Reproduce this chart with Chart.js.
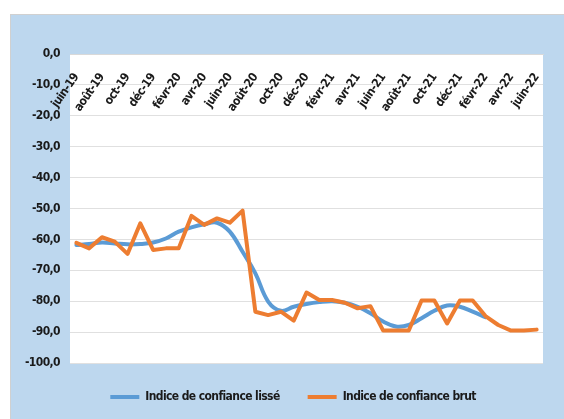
<!DOCTYPE html>
<html>
<head>
<meta charset="utf-8">
<script src="https://cdn.jsdelivr.net/npm/chart.js@4.4.0/dist/chart.umd.min.js"></script>
<style>
    html, body { margin: 0; padding: 0; background: #ffffff; width: 564px; height: 419px; overflow: hidden; }
    #box {
        position: absolute; left: 10px; top: 14px; width: 600px; height: 405px;
        background: #bdd7ee; box-shadow: inset 1px 1px 0 #d0d0d0;
    }
</style>
</head>
<body>
<div id="box"><canvas id="chart"></canvas></div>
<script>
// Monthly labels, juin-19 to juin-22
const months = [
    'juin-19', 'juil-19', 'août-19', 'sept-19', 'oct-19', 'nov-19', 'déc-19',
    'janv-20', 'févr-20', 'mars-20', 'avr-20', 'mai-20', 'juin-20', 'juil-20',
    'août-20', 'sept-20', 'oct-20', 'nov-20', 'déc-20', 'janv-21', 'févr-21',
    'mars-21', 'avr-21', 'mai-21', 'juin-21', 'juil-21', 'août-21', 'sept-21',
    'oct-21', 'nov-21', 'déc-21', 'janv-22', 'févr-22', 'mars-22', 'avr-22',
    'mai-22', 'juin-22'
];

const smoothed = [
    -61.8, -61.5, -61.0, -61.3, -61.6, -61.5, -61.0, -59.7, -57.5, -56.1,
    -55.1, -54.6, -57.5, -64.0, -71.0, -80.1, -83.1, -81.8, -80.9, -80.3,
    -80.0, -80.5, -81.8, -83.9, -86.6, -88.2, -87.7, -85.5, -83.1, -81.4,
    -81.8, -83.4, -85.2, null, null, null, null
];

const raw = [
    -61.1, -62.9, -59.3, -60.7, -64.7, -54.8, -63.4, -62.9, -62.9, -52.4,
    -55.3, -53.2, -54.6, -50.7, -83.4, -84.5, -83.4, -86.3, -77.2, -79.6,
    -79.6, -80.5, -82.3, -81.6, -89.5, -89.5, -89.5, -79.8, -79.8, -87.2,
    -79.8, -79.8, -84.8, -87.7, -89.5, -89.5, -89.2
];

const yMin = -100;
const yMax = 0;
const yStep = 10;

const axisFont = { family: "'DejaVu Sans Condensed', 'DejaVu Sans', sans-serif", size: 12, weight: 'bold' };
const tightText = '-0.6px';

// white plot area + slightly tighter text (Calibri-like width)
const plotBg = {
    id: 'plotBg',
    beforeUpdate(chart) {
        chart.ctx.letterSpacing = tightText;
    },
    beforeDraw(chart) {
        const a = chart.chartArea;
        const ctx = chart.ctx;
        ctx.letterSpacing = tightText;
        ctx.save();
        ctx.fillStyle = '#ffffff';
        ctx.fillRect(a.left, a.top, a.right - a.left, a.bottom - a.top);
        ctx.restore();
    }
};

const ctx = document.getElementById('chart').getContext('2d');
new Chart(ctx, {
    type: 'line',
    data: {
        labels: months,
        datasets: [
            {
                label: 'Indice de confiance lissé',
                data: smoothed,
                borderColor: '#5b9bd5',
                backgroundColor: '#5b9bd5',
                borderWidth: 4,
                tension: 0.4,
                pointRadius: 0,
                borderCapStyle: 'round',
                order: 1
            },
            {
                label: 'Indice de confiance brut',
                data: raw,
                borderColor: '#ed7d31',
                backgroundColor: '#ed7d31',
                borderWidth: 4,
                tension: 0,
                pointRadius: 0,
                borderJoinStyle: 'round',
                borderCapStyle: 'round',
                order: 0
            }
        ]
    },
    options: {
        responsive: true,
        maintainAspectRatio: false,
        animation: false,
        layout: { padding: { left: 0, right: 18, top: 40, bottom: 6 } },
        plugins: {
            tooltip: { enabled: false },
            legend: {
                position: 'bottom',
                labels: {
                    color: '#1a1a1a',
                    font: axisFont,
                    boxWidth: 29,
                    boxHeight: 4,
                    padding: 28,
                    sort: (a, b) => a.datasetIndex - b.datasetIndex,
                    generateLabels(chart) {
                        const items = Chart.defaults.plugins.legend.labels.generateLabels(chart);
                        items.forEach((it, i) => {
                            it.lineWidth = 0;
                            // non-breaking spaces widen the gap between the two entries
                            if (i === 0) it.text = it.text + '\u00a0\u00a0\u00a0\u00a0\u00a0';
                        });
                        return items;
                    }
                }
            }
        },
        scales: {
            x: {
                type: 'category',
                position: { y: 0 },
                offset: true,
                grid: { display: false, drawTicks: false },
                border: { display: true, color: '#d9d9d9' },
                ticks: {
                    color: '#1a1a1a',
                    font: axisFont,
                    autoSkip: false,
                    minRotation: 55,
                    maxRotation: 55,
                    padding: 17,
                    callback: (v, i) => (i % 2 === 0 ? months[i] : '')
                }
            },
            y: {
                min: yMin,
                max: yMax,
                afterFit: (scale) => { scale.width = 60; },
                grid: { color: '#e0e0e0', drawTicks: false },
                border: { display: false },
                ticks: {
                    stepSize: yStep,
                    color: '#1a1a1a',
                    font: axisFont,
                    padding: 10,
                    callback: (v) => v.toFixed(1).replace('.', ',')
                }
            },
            // empty right-hand strip: keeps the plot edge while the legend centres further right
            spacer: {
                position: 'right',
                grid: { display: false, drawTicks: false },
                border: { display: false },
                ticks: { display: false },
                afterFit: (scale) => { scale.width = 49; }
            }
        }
    },
    plugins: [plotBg]
});
</script>
</body>
</html>
